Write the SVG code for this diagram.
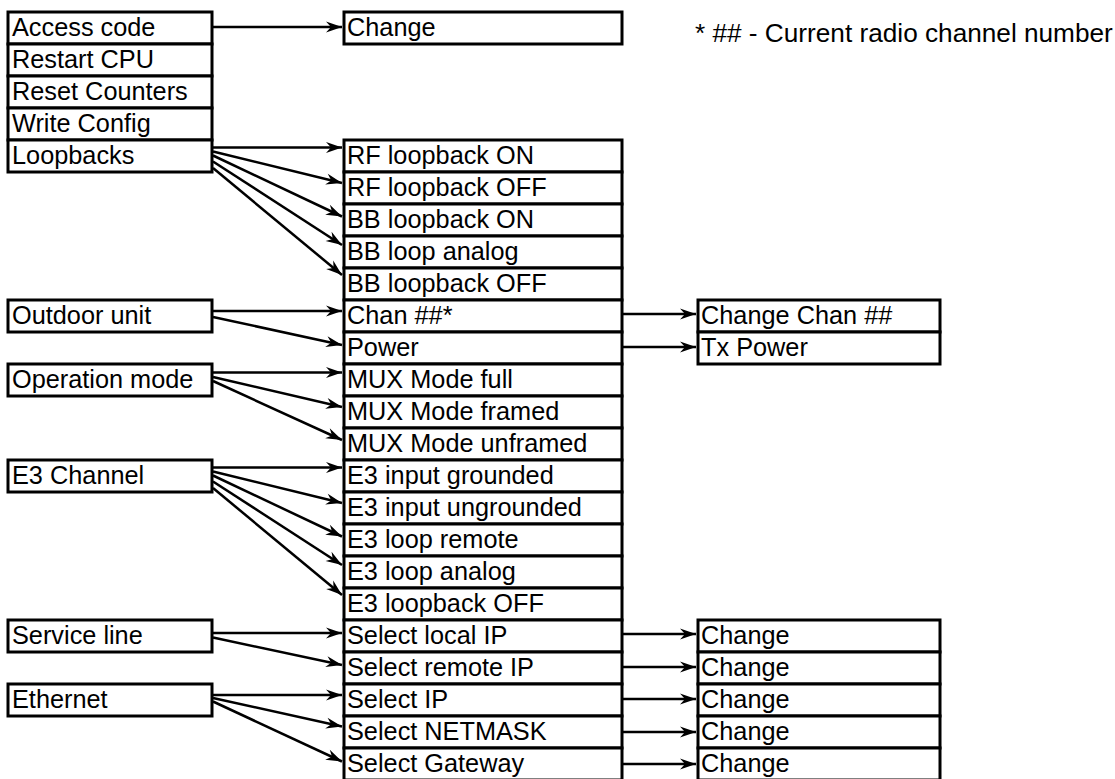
<svg xmlns="http://www.w3.org/2000/svg" width="1115" height="779" viewBox="0 0 1115 779">
<style>
.b{fill:#fff;stroke:#000;stroke-width:3}
.t{font-family:"Liberation Sans",Arial,sans-serif;font-size:25.3px;fill:#000}
.lg{font-size:26.2px}
.c{fill:none;stroke:#000;stroke-width:2.5;marker-end:url(#ah)}
</style>
<defs>
<marker id="ah" markerUnits="userSpaceOnUse" markerWidth="20" markerHeight="14" viewBox="-18 -7 20 14" refX="0" refY="0" orient="auto">
<path d="M0,0 L-16,-5.5 L-11,0 L-16,5.5 Z" fill="#000"/>
</marker>
</defs>
<rect width="1115" height="779" fill="#fff"/>
<g id="left">
<g id="n-access"><rect class="b" x="8" y="12" width="204" height="32"/><text class="t" x="12" y="36">Access code</text></g>
<g id="n-restart"><rect class="b" x="8" y="44" width="204" height="32"/><text class="t" x="12" y="68">Restart CPU</text></g>
<g id="n-reset"><rect class="b" x="8" y="76" width="204" height="32"/><text class="t" x="12" y="100">Reset Counters</text></g>
<g id="n-write"><rect class="b" x="8" y="108" width="204" height="32"/><text class="t" x="12" y="132">Write Config</text></g>
<g id="n-loop"><rect class="b" x="8" y="140" width="204" height="32"/><text class="t" x="12" y="164">Loopbacks</text></g>
<g id="n-outdoor"><rect class="b" x="8" y="300" width="204" height="32"/><text class="t" x="12" y="324">Outdoor unit</text></g>
<g id="n-opmode"><rect class="b" x="8" y="364" width="204" height="32"/><text class="t" x="12" y="388">Operation mode</text></g>
<g id="n-e3"><rect class="b" x="8" y="460" width="204" height="32"/><text class="t" x="12" y="484">E3 Channel</text></g>
<g id="n-service"><rect class="b" x="8" y="620" width="204" height="32"/><text class="t" x="12" y="644">Service line</text></g>
<g id="n-eth"><rect class="b" x="8" y="684" width="204" height="32"/><text class="t" x="12" y="708">Ethernet</text></g>
</g>
<g id="middle">
<g id="m-change"><rect class="b" x="344" y="12" width="278" height="32"/><text class="t" x="347" y="36">Change</text></g>
<g id="m-rfon"><rect class="b" x="344" y="140" width="278" height="32"/><text class="t" x="347" y="164">RF loopback ON</text></g>
<g id="m-rfoff"><rect class="b" x="344" y="172" width="278" height="32"/><text class="t" x="347" y="196">RF loopback OFF</text></g>
<g id="m-bbon"><rect class="b" x="344" y="204" width="278" height="32"/><text class="t" x="347" y="228">BB loopback ON</text></g>
<g id="m-bban"><rect class="b" x="344" y="236" width="278" height="32"/><text class="t" x="347" y="260">BB loop analog</text></g>
<g id="m-bboff"><rect class="b" x="344" y="268" width="278" height="32"/><text class="t" x="347" y="292">BB loopback OFF</text></g>
<g id="m-chan"><rect class="b" x="344" y="300" width="278" height="32"/><text class="t" x="347" y="324">Chan ##*</text></g>
<g id="m-power"><rect class="b" x="344" y="332" width="278" height="32"/><text class="t" x="347" y="356">Power</text></g>
<g id="m-muxfull"><rect class="b" x="344" y="364" width="278" height="32"/><text class="t" x="347" y="388">MUX Mode full</text></g>
<g id="m-muxfr"><rect class="b" x="344" y="396" width="278" height="32"/><text class="t" x="347" y="420">MUX Mode framed</text></g>
<g id="m-muxun"><rect class="b" x="344" y="428" width="278" height="32"/><text class="t" x="347" y="452">MUX Mode unframed</text></g>
<g id="m-e3g"><rect class="b" x="344" y="460" width="278" height="32"/><text class="t" x="347" y="484">E3 input grounded</text></g>
<g id="m-e3u"><rect class="b" x="344" y="492" width="278" height="32"/><text class="t" x="347" y="516">E3 input ungrounded</text></g>
<g id="m-e3r"><rect class="b" x="344" y="524" width="278" height="32"/><text class="t" x="347" y="548">E3 loop remote</text></g>
<g id="m-e3a"><rect class="b" x="344" y="556" width="278" height="32"/><text class="t" x="347" y="580">E3 loop analog</text></g>
<g id="m-e3off"><rect class="b" x="344" y="588" width="278" height="32"/><text class="t" x="347" y="612">E3 loopback OFF</text></g>
<g id="m-lip"><rect class="b" x="344" y="620" width="278" height="32"/><text class="t" x="347" y="644">Select local IP</text></g>
<g id="m-rip"><rect class="b" x="344" y="652" width="278" height="32"/><text class="t" x="347" y="676">Select remote IP</text></g>
<g id="m-ip"><rect class="b" x="344" y="684" width="278" height="32"/><text class="t" x="347" y="708">Select IP</text></g>
<g id="m-nm"><rect class="b" x="344" y="716" width="278" height="32"/><text class="t" x="347" y="740">Select NETMASK</text></g>
<g id="m-gw"><rect class="b" x="344" y="748" width="278" height="32"/><text class="t" x="347" y="772">Select Gateway</text></g>
</g>
<g id="right">
<g id="r-chchan"><rect class="b" x="698" y="300" width="242" height="32"/><text class="t" x="701" y="324">Change Chan ##</text></g>
<g id="r-txp"><rect class="b" x="698" y="332" width="242" height="32"/><text class="t" x="701" y="356">Tx Power</text></g>
<g id="r-c1"><rect class="b" x="698" y="620" width="242" height="32"/><text class="t" x="701" y="644">Change</text></g>
<g id="r-c2"><rect class="b" x="698" y="652" width="242" height="32"/><text class="t" x="701" y="676">Change</text></g>
<g id="r-c3"><rect class="b" x="698" y="684" width="242" height="32"/><text class="t" x="701" y="708">Change</text></g>
<g id="r-c4"><rect class="b" x="698" y="716" width="242" height="32"/><text class="t" x="701" y="740">Change</text></g>
<g id="r-c5"><rect class="b" x="698" y="748" width="242" height="32"/><text class="t" x="701" y="772">Change</text></g>
</g>
<g id="legend"><text class="t lg" x="695" y="42">* ## - Current radio channel number</text></g>
<g id="connectors">
<path class="c" d="M213,27 L342,27"/>
<path class="c" d="M213,147.5 L342,147.5"/>
<path class="c" d="M213,151.5 L342,183"/>
<path class="c" d="M213,155.5 L342,216.5"/>
<path class="c" d="M213,161.5 L342,245"/>
<path class="c" d="M213,168 L342,275"/>
<path class="c" d="M213,311 L342,311"/>
<path class="c" d="M213,317 L342,345"/>
<path class="c" d="M213,372.5 L342,372.5"/>
<path class="c" d="M213,377 L342,407"/>
<path class="c" d="M213,381 L342,440"/>
<path class="c" d="M213,467.5 L342,467.5"/>
<path class="c" d="M213,471.5 L342,503"/>
<path class="c" d="M213,475.5 L342,536.5"/>
<path class="c" d="M213,481.5 L342,565"/>
<path class="c" d="M213,488 L342,595"/>
<path class="c" d="M213,633 L342,633"/>
<path class="c" d="M213,637.5 L342,665"/>
<path class="c" d="M213,695 L342,695"/>
<path class="c" d="M213,698 L342,726.5"/>
<path class="c" d="M213,701.5 L342,761.5"/>
<path class="c" d="M622,314 L696,314"/>
<path class="c" d="M622,347 L696,347"/>
<path class="c" d="M622,634 L696,634"/>
<path class="c" d="M622,667 L696,667"/>
<path class="c" d="M622,699 L696,699"/>
<path class="c" d="M622,732 L696,732"/>
<path class="c" d="M622,764 L696,764"/>
</g>
</svg>
